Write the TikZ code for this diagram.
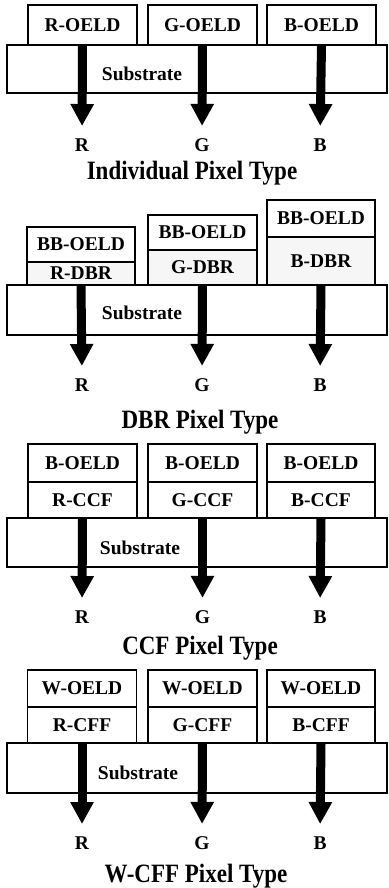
\documentclass[tikz,border=0pt]{standalone}
\usepackage{fontspec}
\setmainfont{Liberation Serif}
\usetikzlibrary{arrows.meta}
\newcommand{\boxfont}{\fontsize{19.5}{20}\selectfont\bfseries}
\newcommand{\lblfont}{\fontsize{19.5}{20}\selectfont\bfseries}
\newcommand{\titlefont}{\fontsize{23}{24}\selectfont\bfseries}
\newcommand{\tallttl}[1]{\scalebox{1}[1.15]{#1}}
\tikzset{
  layer/.style={draw, line width=1.6pt, fill=white, inner sep=0pt, font=\boxfont, minimum width=109pt},
  dbr/.style={layer, fill=gray!7},
  substrate/.style={draw, line width=1.6pt, fill=white, inner sep=0pt, minimum width=380pt},
  txt/.style={inner sep=0pt, font=\boxfont},
  lbl/.style={inner sep=0pt, font=\lblfont, anchor=base},
  ttl/.style={inner sep=0pt, font=\titlefont, anchor=base},
  bigarrow/.style={line width=9pt, shorten >=12pt, -{Triangle[width=22pt,length=22pt]}},
}
\begin{document}
\begin{tikzpicture}[x=1pt,y=-1pt]
\useasboundingbox (0,0) rectangle (388,888);
\fill[white] (0,0) rectangle (388,888);

% ---------- Panel 1: Individual Pixel Type
\node[substrate, minimum height=48pt] (s1) at (197,69) {};
\node[txt] (s1t) at (142,74) {Substrate};
\node[layer, minimum height=40pt] (a1) at (82.5,25) {R-OELD};
\node[layer, minimum height=40pt] (b1) at (202.5,25) {G-OELD};
\node[layer, minimum height=40pt] (c1) at (321.5,25) {B-OELD};
\node[lbl] (la1) at (82,151) {R};
\node[lbl] (lb1) at (202,151) {G};
\node[lbl] (lc1) at (320,151) {B};
\draw[bigarrow] (a1.south) -- (la1.north);
\draw[bigarrow] (b1.south) -- (lb1.north);
\draw[bigarrow] (c1.south) -- (lc1.north);
\node[ttl] (t1) at (192,179) {\tallttl{Individual Pixel Type}};

% ---------- Panel 2: DBR Pixel Type
\node[substrate, minimum height=50pt] (s2) at (197,310) {};
\node[txt] (s2t) at (142,313) {Substrate};
\node[layer, minimum width=108pt, minimum height=35pt] (a2t) at (81,244.5) {BB-OELD};
\node[dbr, minimum width=108pt, minimum height=23pt] (a2b) at (81,273.5) {R-DBR};
\node[layer, minimum height=35pt] (b2t) at (202.5,232.5) {BB-OELD};
\node[dbr, minimum height=35pt] (b2b) at (202.5,267.5) {G-DBR};
\node[layer, minimum width=108pt, minimum height=37pt] (c2t) at (321,218.5) {BB-OELD};
\node[dbr, minimum width=108pt, minimum height=48pt] (c2b) at (321,261) {B-DBR};
\node[lbl] (la2) at (82,391) {R};
\node[lbl] (lb2) at (202,391) {G};
\node[lbl] (lc2) at (320,391) {B};
\draw[bigarrow] (a2b.south) -- (la2.north);
\draw[bigarrow] (b2b.south) -- (lb2.north);
\draw[bigarrow] (c2b.south) -- (lc2.north);
\node[ttl] (t2) at (200,428) {\tallttl{DBR Pixel Type}};

% ---------- Panel 3: CCF Pixel Type
\node[substrate, minimum height=49pt] (s3) at (197,542.5) {};
\node[txt] (s3t) at (140,548) {Substrate};
\node[layer, minimum height=38pt] (a3t) at (82.5,463) {B-OELD};
\node[layer, minimum height=36pt] (a3b) at (82.5,500) {R-CCF};
\node[layer, minimum height=38pt] (b3t) at (202.5,463) {B-OELD};
\node[layer, minimum height=36pt] (b3b) at (202.5,500) {G-CCF};
\node[layer, minimum width=108pt, minimum height=38pt] (c3t) at (321,463) {B-OELD};
\node[layer, minimum width=108pt, minimum height=36pt] (c3b) at (321,500) {B-CCF};
\node[lbl] (la3) at (82,623) {R};
\node[lbl] (lb3) at (202.5,623) {G};
\node[lbl] (lc3) at (320,623) {B};
\draw[bigarrow] (a3b.south) -- (la3.north);
\draw[bigarrow] (b3b.south) -- (lb3.north);
\draw[bigarrow] (c3b.south) -- (lc3.north);
\node[ttl] (t3) at (200,654) {\tallttl{CCF Pixel Type}};

% ---------- Panel 4: W-CFF Pixel Type
\node[substrate, minimum height=50pt] (s4) at (197,768) {};
\node[txt] (s4t) at (138,773) {Substrate};
\node[layer, minimum height=37pt] (a4t) at (82,688.5) {W-OELD};
\node[layer, minimum height=36pt] (a4b) at (82,725) {R-CFF};
\node[layer, minimum height=37pt] (b4t) at (202.5,688.5) {W-OELD};
\node[layer, minimum height=36pt] (b4b) at (202.5,725) {G-CFF};
\node[layer, minimum width=108pt, minimum height=37pt] (c4t) at (321,688.5) {W-OELD};
\node[layer, minimum width=108pt, minimum height=36pt] (c4b) at (321,725) {B-CFF};
\node[lbl] (la4) at (82,849) {R};
\node[lbl] (lb4) at (202,849) {G};
\node[lbl] (lc4) at (320,849) {B};
\draw[bigarrow] (a4b.south) -- (la4.north);
\draw[bigarrow] (b4b.south) -- (lb4.north);
\draw[bigarrow] (c4b.south) -- (lc4.north);
\node[ttl] (t4) at (196,882) {\tallttl{W-CFF Pixel Type}};
\end{tikzpicture}
\end{document}
